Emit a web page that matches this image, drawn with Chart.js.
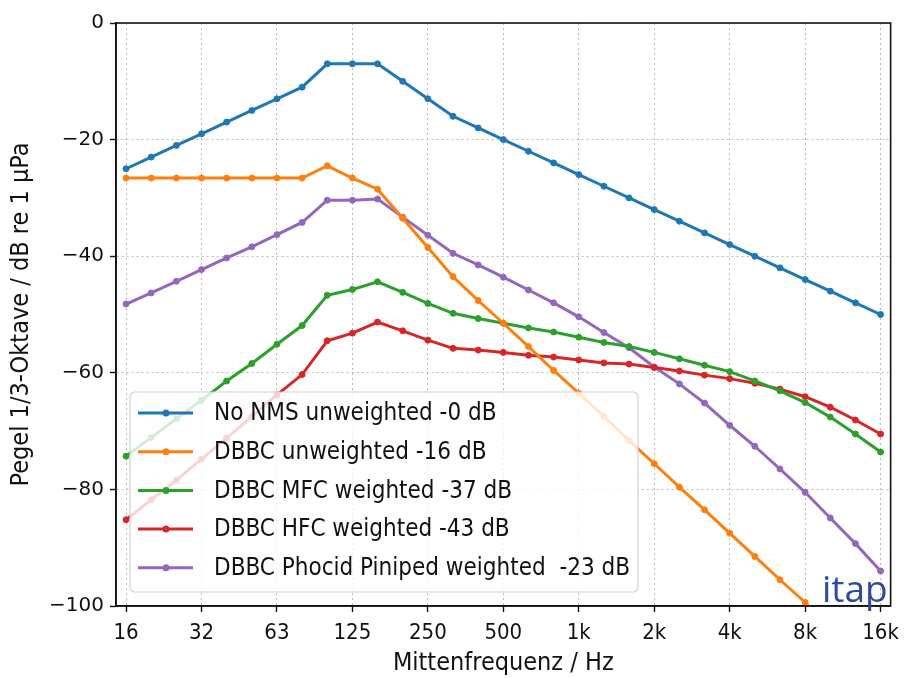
<!DOCTYPE html>
<html>
<head>
<meta charset="utf-8">
<script src="https://cdn.jsdelivr.net/npm/chart.js@4.4.0/dist/chart.umd.min.js"></script>
<style>
  html, body { margin: 0; padding: 0; background: #fff; }
</style>
</head>
<body>
<canvas id="chart" width="907" height="678"></canvas>
<script>
// third-octave bands, 16 Hz .. 16 kHz
var bands = ["16","20","25","31.5","40","50","63","80","100","125","160","200","250","315","400","500",
             "630","800","1k","1.25k","1.6k","2k","2.5k","3.15k","4k","5k","6.3k","8k","10k","12.5k","16k"];
// labels shown on the octave bands (every third band)
var octaveLabels = ["16","32","63","125","250","500","1k","2k","4k","8k","16k"];

var seriesNames = [
  "No NMS unweighted -0 dB",
  "DBBC unweighted -16 dB",
  "DBBC MFC weighted -37 dB",
  "DBBC HFC weighted -43 dB",
  "DBBC Phocid Piniped weighted  -23 dB"
];

var noNms = [-25,-23,-21,-19,-17,-15,-13,-11,-7,-7,-7,-10,-13,-16,-18,-20,
             -22,-24,-26,-28,-30,-32,-34,-36,-38,-40,-42,-44,-46,-48,-50];
var dbbcUnw = [-26.6,-26.6,-26.6,-26.6,-26.6,-26.6,-26.6,-26.6,-24.5,-26.6,-28.5,-33.5,-38.5,-43.5,-47.6,-51.5,
               -55.5,-59.6,-63.5,-67.5,-71.6,-75.6,-79.6,-83.5,-87.5,-91.5,-95.5,-99.4,-103.5,-107.5,-111.5];
var dbbcMfc = [-74.3,-71.1,-67.9,-64.7,-61.4,-58.4,-55.1,-51.9,-46.7,-45.7,-44.4,-46.2,-48.1,-49.8,-50.7,-51.5,
               -52.3,-53.0,-53.9,-54.8,-55.5,-56.5,-57.6,-58.7,-59.8,-61.4,-63.1,-65.1,-67.6,-70.5,-73.6];
var dbbcHfc = [-85.2,-81.8,-78.4,-74.8,-71.2,-67.5,-63.8,-60.3,-54.5,-53.2,-51.3,-52.8,-54.4,-55.8,-56.1,-56.5,
               -57.0,-57.3,-57.8,-58.3,-58.5,-59.1,-59.7,-60.4,-61.0,-61.8,-62.8,-64.1,-65.9,-68.1,-70.5];
var dbbcPhocid = [-48.2,-46.3,-44.3,-42.3,-40.3,-38.4,-36.3,-34.2,-30.4,-30.4,-30.2,-33.3,-36.4,-39.5,-41.5,-43.6,
                  -45.8,-48.0,-50.4,-53.1,-55.7,-59.0,-61.9,-65.2,-69.0,-72.6,-76.5,-80.5,-84.9,-89.3,-94.0];

var colors = ["#1f77b4", "#ff7f0e", "#2ca02c", "#d62728", "#9467bd"];
var allSeries = [noNms, dbbcUnw, dbbcMfc, dbbcHfc, dbbcPhocid];

var condFont = "'DejaVu Sans Condensed', 'Liberation Sans Narrow', 'DejaVu Sans', sans-serif";
var plainFont = "'DejaVu Sans', sans-serif";

function toPoints(values) {
  return values.map(function(v, i) { return { x: i, y: v }; });
}

var datasets = [];
for (var s = 0; s < allSeries.length; s++) {
  datasets.push({
    label: seriesNames[s],
    data: toPoints(allSeries[s]),
    borderColor: colors[s],
    backgroundColor: colors[s],
    pointBackgroundColor: colors[s],
    pointBorderColor: colors[s],
    borderWidth: 3,
    pointRadius: 3,
    pointBorderWidth: 1,
    fill: false,
    tension: 0
  });
}

// box round the plot + legend inside the axes
var framePlugin = {
  id: 'frame',
  afterDatasetsDraw: function(chart) {
    var ctx = chart.ctx;
    var a = chart.chartArea;
    ctx.save();

    // legend
    var bx = a.left + 14, by = a.bottom - 214, bw = 508, bh = 200, r = 5;
    ctx.beginPath();
    ctx.moveTo(bx + r, by);
    ctx.arcTo(bx + bw, by, bx + bw, by + bh, r);
    ctx.arcTo(bx + bw, by + bh, bx, by + bh, r);
    ctx.arcTo(bx, by + bh, bx, by, r);
    ctx.arcTo(bx, by, bx + bw, by, r);
    ctx.closePath();
    ctx.fillStyle = "rgba(255,255,255,0.8)";
    ctx.fill();
    ctx.strokeStyle = "#d0d0d0";
    ctx.lineWidth = 1.2;
    ctx.stroke();

    ctx.font = "24px " + condFont;
    ctx.textBaseline = "middle";
    ctx.textAlign = "left";
    for (var i = 0; i < chart.data.datasets.length; i++) {
      var ds = chart.data.datasets[i];
      var ry = by + 21 + i * 38.7;
      ctx.strokeStyle = ds.borderColor;
      ctx.lineWidth = 3;
      ctx.beginPath();
      ctx.moveTo(bx + 8, ry);
      ctx.lineTo(bx + 63, ry);
      ctx.stroke();
      ctx.fillStyle = ds.borderColor;
      ctx.beginPath();
      ctx.arc(bx + 36, ry, 3.5, 0, Math.PI * 2);
      ctx.fill();
      ctx.fillStyle = "#111";
      ctx.fillText(ds.label, bx + 84, ry + 1);
    }

    // frame
    ctx.strokeStyle = "#111";
    ctx.lineWidth = 1.6;
    ctx.strokeRect(a.left, a.top, a.right - a.left, a.bottom - a.top);

    // logo
    ctx.font = "37px 'Open Sans', 'Liberation Sans', sans-serif";
    ctx.textAlign = "right";
    ctx.textBaseline = "alphabetic";
    ctx.fillStyle = "#2d4b9b";
    ctx.fillText("itap", a.right - 3, a.bottom - 4);
    ctx.restore();
  }
};

new Chart(document.getElementById('chart'), {
  type: 'line',
  data: { datasets: datasets },
  options: {
    responsive: false,
    devicePixelRatio: 1,
    animation: false,
    layout: { padding: { top: 23, right: 8, left: 0, bottom: 0 } },
    plugins: { legend: { display: false }, tooltip: { enabled: false } },
    scales: {
      x: {
        type: 'linear',
        min: -0.4,
        max: 30.4,
        afterBuildTicks: function(scale) {
          scale.ticks = octaveLabels.map(function(l, i) { return { value: i * 3 }; });
        },
        afterFit: function(scale) { scale.height = 72; },
        ticks: {
          autoSkip: false,
          maxRotation: 0,
          padding: 8,
          color: "#111",
          font: { family: condFont, size: 22 },
          callback: function(v) { return (v % 3 === 0) ? octaveLabels[v / 3] : null; }
        },
        grid: { color: "#bbbbbb", lineWidth: 1, tickColor: "#111", tickLength: 6, tickWidth: 1.4, tickBorderDash: [] },
        border: { display: true, color: "#111", width: 1.6, dash: [2, 3] },
        title: {
          display: true,
          text: "Mittenfrequenz / Hz",
          color: "#111",
          font: { family: condFont, size: 25 },
          padding: { top: 0, bottom: 0 }
        }
      },
      y: {
        min: -100,
        max: 0,
        afterFit: function(scale) { scale.width = 116; },
        ticks: {
          stepSize: 20,
          padding: 6,
          color: "#111",
          font: { family: plainFont, size: 20 },
          callback: function(v) { return String(v).replace('-', '\u2212'); }
        },
        grid: { color: "#bbbbbb", lineWidth: 1, tickColor: "#111", tickLength: 6, tickWidth: 1.4, tickBorderDash: [] },
        border: { display: true, color: "#111", width: 1.6, dash: [2, 3] },
        title: {
          display: true,
          text: "Pegel 1/3-Oktave / dB re 1 \u03bcPa",
          color: "#111",
          font: { family: condFont, size: 25 },
          padding: { top: 6, bottom: 0 }
        }
      }
    }
  },
  plugins: [framePlugin]
});
</script>
</body>
</html>
